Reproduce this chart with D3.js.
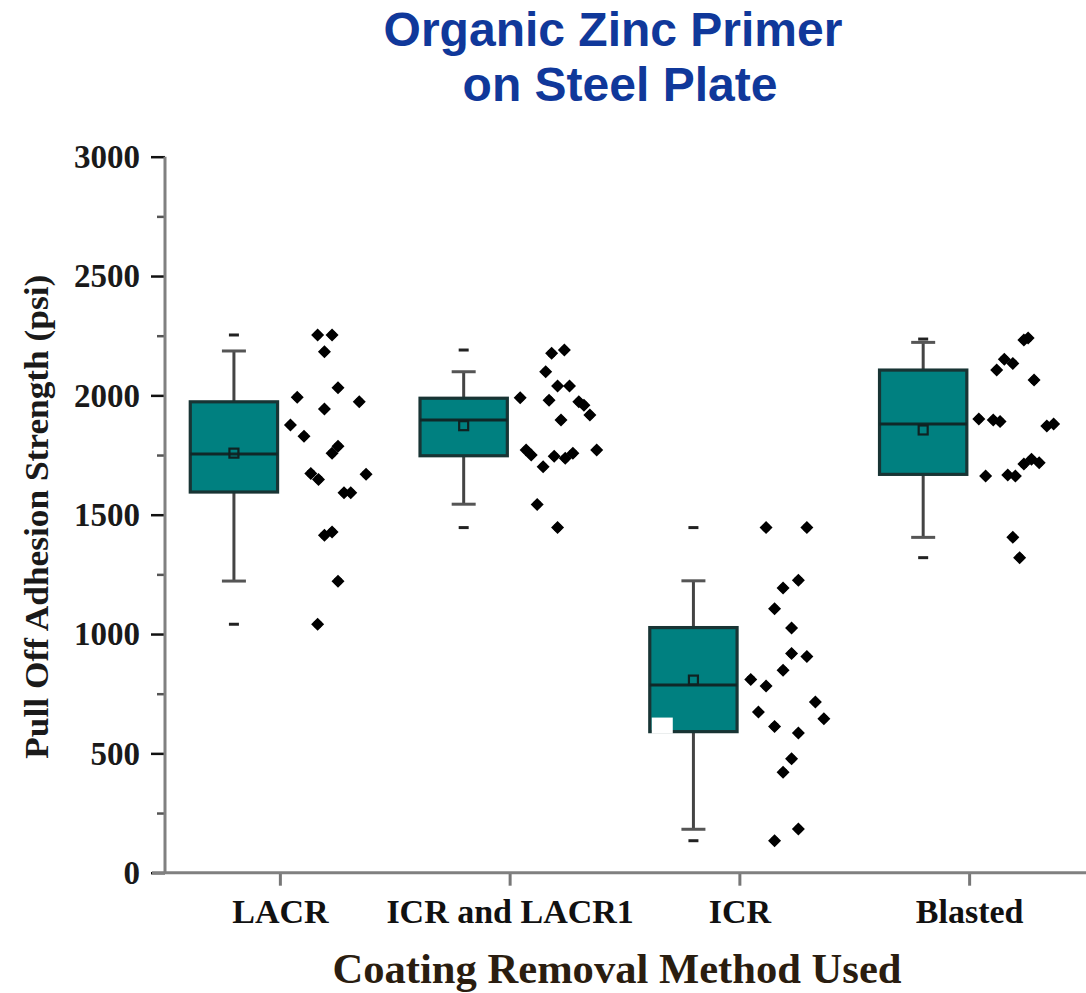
<!DOCTYPE html>
<html>
<head>
<meta charset="utf-8">
<script src="https://cdn.jsdelivr.net/npm/d3@7/dist/d3.min.js"></script>
<style>
  html, body { margin: 0; padding: 0; background: #fff; }
  svg { display: block; }
</style>
</head>
<body>
<svg id="chart" width="1086" height="993"></svg>
<script>
// Categories and axis ticks
const categories = ["LACR", "ICR and LACR1", "ICR", "Blasted"];
const yMajorTicks = [0, 500, 1000, 1500, 2000, 2500, 3000];
const yMinorTicks = [250, 750, 1250, 1750, 2250, 2750];

// Box summary per method (psi)
const q1Values      = [1595, 1747, 591, 1669];
const medianValues  = [1754, 1897, 786, 1880];
const q3Values      = [1973, 1988, 1027, 2106];
const meanValues    = [1758, 1873, 807, 1855];
const whiskerLow    = [1222, 1544, 182, 1405];
const whiskerHigh   = [2186, 2099, 1223, 2222];
const minValues     = [1041, 1446, 134, 1320];
const maxValues     = [2253, 2190, 1446, 2236];

// Individual pull-off readings (psi) and their spread within the strip (0..1)
const lacrValues   = [2253, 2253, 2183, 2032, 1992, 1973, 1943, 1876, 1829, 1787, 1757, 1673, 1648, 1669, 1592, 1592, 1428, 1414, 1221, 1041];
const lacrJitter   = [0.39, 0.56, 0.47, 0.63, 0.15, 0.88, 0.47, 0.07, 0.23, 0.63, 0.56, 0.31, 0.40, 0.96, 0.70, 0.78, 0.56, 0.47, 0.63, 0.39];
const icrLacrValues = [2176, 2190, 2099, 2039, 2039, 1990, 1980, 1973, 1959, 1918, 1897, 1771, 1750, 1745, 1736, 1757, 1771, 1701, 1543, 1446];
const icrLacrJitter = [0.44, 0.59, 0.37, 0.51, 0.65, 0.07, 0.41, 0.76, 0.82, 0.89, 0.55, 0.14, 0.20, 0.47, 0.60, 0.69, 0.97, 0.34, 0.27, 0.51];
const icrValues    = [1446, 1446, 1225, 1193, 1106, 1025, 918, 906, 848, 810, 782, 715, 673, 645, 613, 585, 477, 421, 183, 134];
const icrJitter    = [0.26, 0.74, 0.64, 0.46, 0.36, 0.56, 0.56, 0.74, 0.46, 0.08, 0.26, 0.84, 0.17, 0.94, 0.36, 0.64, 0.56, 0.46, 0.64, 0.36];
const blastedValues = [2232, 2240, 2151, 2134, 2106, 2064, 1901, 1897, 1890, 1872, 1880, 1662, 1666, 1662, 1712, 1732, 1718, 1405, 1320];
const blastedJitter = [0.59, 0.64, 0.36, 0.46, 0.27, 0.71, 0.06, 0.23, 0.31, 0.86, 0.94, 0.14, 0.40, 0.49, 0.59, 0.68, 0.77, 0.46, 0.54];

const pointValues = [lacrValues, icrLacrValues, icrValues, blastedValues];
const pointJitter = [lacrJitter, icrLacrJitter, icrJitter, blastedJitter];

const svg = d3.select("#chart");

const plot = { left: 165, right: 1084, top: 156.7, bottom: 872.7 };

const x = d3.scalePoint().domain(categories).range([plot.left, plot.right]).padding(0.5);
const y = d3.scaleLinear().domain([0, 3000]).range([plot.bottom, plot.top]);
const step = x.step();
const boxOffset = -0.2 * step;
const boxWidth = 0.38 * step;
const jitterX = d3.scaleLinear().domain([0, 1]).range([0.02 * step, 0.39 * step]);

const teal = "#008080";
const boxEdge = "#183434";

// Title
const title = svg.append("g")
  .attr("font-family", "'Liberation Sans', Arial, sans-serif")
  .attr("font-weight", "bold")
  .attr("font-size", 48)
  .attr("fill", "#10389a")
  .attr("text-anchor", "middle");
title.append("text").attr("x", 613).attr("y", 46).text("Organic Zinc Primer");
title.append("text").attr("x", 620).attr("y", 101).text("on Steel Plate");

// Y axis: minor then major ticks
const yAxisG = svg.append("g").attr("transform", `translate(${plot.left},0)`);
yAxisG.call(d3.axisLeft(y).tickValues(yMinorTicks).tickSize(8).tickFormat(""))
  .call(g => g.select(".domain").remove())
  .call(g => g.selectAll(".tick line").attr("stroke", "#555").attr("stroke-width", 2.5));
const yMajorG = svg.append("g").attr("transform", `translate(${plot.left},0)`);
yMajorG.call(d3.axisLeft(y).tickValues(yMajorTicks).tickSize(14).tickPadding(11).tickFormat(d3.format("d")))
  .call(g => g.select(".domain").remove())
  .call(g => g.selectAll(".tick line").attr("stroke", "#111").attr("stroke-width", 2.5))
  .call(g => g.selectAll(".tick text")
    .attr("font-family", "'Liberation Serif', 'Times New Roman', serif")
    .attr("font-weight", "bold")
    .attr("font-size", 33)
    .attr("fill", "#1a1a1a")
    .attr("dy", "0.33em"));

// X axis
const xAxisG = svg.append("g").attr("transform", `translate(0,${plot.bottom})`);
xAxisG.call(d3.axisBottom(x).tickSize(13).tickSizeOuter(0))
  .call(g => g.select(".domain").remove())
  .call(g => g.selectAll(".tick line").attr("stroke", "#777").attr("stroke-width", 3))
  .call(g => g.selectAll(".tick text")
    .attr("font-family", "'Liberation Serif', 'Times New Roman', serif")
    .attr("font-weight", "bold")
    .attr("font-size", 34)
    .attr("fill", "#111")
    .attr("y", 50)
    .attr("dy", 0));

// Axis lines
svg.append("line")
  .attr("x1", plot.left).attr("x2", plot.left)
  .attr("y1", plot.top).attr("y2", plot.bottom)
  .attr("stroke", "#808080").attr("stroke-width", 3);
svg.append("line")
  .attr("x1", plot.left - 13).attr("x2", 1086)
  .attr("y1", plot.bottom).attr("y2", plot.bottom)
  .attr("stroke", "#808080").attr("stroke-width", 3);

// Axis titles
svg.append("text")
  .attr("transform", `translate(48,${(y(0) + y(3000)) / 2 + 2}) rotate(-90)`)
  .attr("text-anchor", "middle")
  .attr("font-family", "'Liberation Serif', 'Times New Roman', serif")
  .attr("font-weight", "bold")
  .attr("font-size", 33)
  .attr("fill", "#1a1a1a")
  .attr("textLength", 484)
  .attr("lengthAdjust", "spacingAndGlyphs")
  .text("Pull Off Adhesion Strength (psi)");

svg.append("text")
  .attr("x", 617).attr("y", 983)
  .attr("text-anchor", "middle")
  .attr("font-family", "'Liberation Serif', 'Times New Roman', serif")
  .attr("font-weight", "bold")
  .attr("font-size", 43)
  .attr("fill", "#2a1d10")
  .attr("textLength", 569)
  .attr("lengthAdjust", "spacingAndGlyphs")
  .text("Coating Removal Method Used");

// Box plots with jittered readings
const boxes = svg.append("g");
categories.forEach((cat, i) => {
  const cx = x(cat) + boxOffset;
  const g = boxes.append("g");
  const capHalf = 12;

  // whiskers
  g.append("line")
    .attr("x1", cx).attr("x2", cx)
    .attr("y1", y(whiskerHigh[i])).attr("y2", y(q3Values[i]))
    .attr("stroke", "#444").attr("stroke-width", 3);
  g.append("line")
    .attr("x1", cx).attr("x2", cx)
    .attr("y1", y(q1Values[i])).attr("y2", y(whiskerLow[i]))
    .attr("stroke", "#444").attr("stroke-width", 3);
  [whiskerHigh[i], whiskerLow[i]].forEach(v => {
    g.append("line")
      .attr("x1", cx - capHalf).attr("x2", cx + capHalf)
      .attr("y1", y(v)).attr("y2", y(v))
      .attr("stroke", "#555").attr("stroke-width", 3);
  });

  // min / max dashes
  [minValues[i], maxValues[i]].forEach(v => {
    g.append("line")
      .attr("x1", cx - 5).attr("x2", cx + 5)
      .attr("y1", y(v)).attr("y2", y(v))
      .attr("stroke", "#222").attr("stroke-width", 3);
  });

  // box
  g.append("rect")
    .attr("x", cx - boxWidth / 2)
    .attr("y", y(q3Values[i]))
    .attr("width", boxWidth)
    .attr("height", y(q1Values[i]) - y(q3Values[i]))
    .attr("fill", teal)
    .attr("stroke", boxEdge)
    .attr("stroke-width", 3.2);

  // median
  g.append("line")
    .attr("x1", cx - boxWidth / 2).attr("x2", cx + boxWidth / 2)
    .attr("y1", y(medianValues[i])).attr("y2", y(medianValues[i]))
    .attr("stroke", "#0f2828").attr("stroke-width", 3);

  // mean
  g.append("rect")
    .attr("x", cx - 4.5).attr("y", y(meanValues[i]) - 4.5)
    .attr("width", 9).attr("height", 9)
    .attr("fill", "none")
    .attr("stroke", "#0f2222").attr("stroke-width", 2.2);

  // data points
  const tick = x(cat);
  const pts = g.selectAll("g.pt")
    .data(pointValues[i].map((v, k) => ({ v, j: pointJitter[i][k] })))
    .join("g")
    .attr("class", "pt")
    .attr("transform", d => `translate(${tick + jitterX(d.j)},${y(d.v)})`);
  pts.append("path").attr("d", "M0,-6.5L6.5,0L0,6.5L-6.5,0Z").attr("fill", "#000");
  pts.append("circle").attr("r", 4.3).attr("fill", "#000");
});

// gap in the ICR box's lower corner
{
  const cx = x("ICR") + boxOffset;
  svg.append("rect")
    .attr("x", cx - boxWidth / 2 + 2)
    .attr("y", y(650))
    .attr("width", 21)
    .attr("height", y(q1Values[2]) - y(650) + 2)
    .attr("fill", "#fff");
}
</script>
</body>
</html>
